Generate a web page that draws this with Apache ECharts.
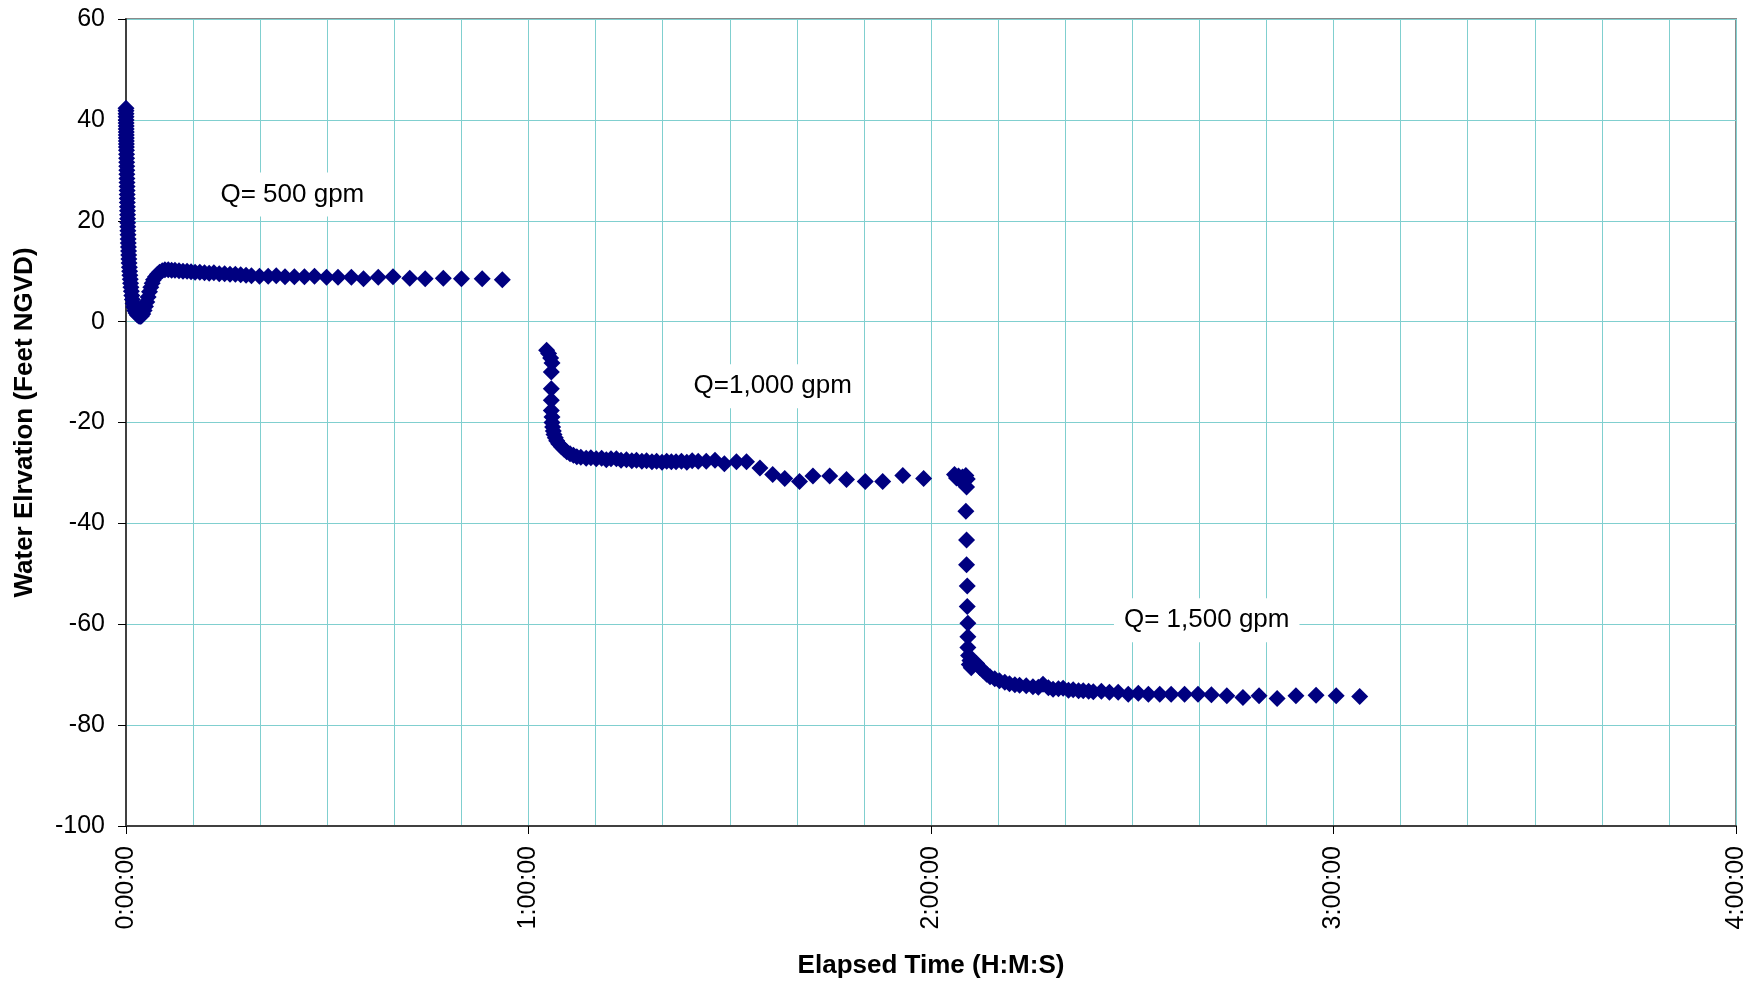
<!DOCTYPE html>
<html>
<head>
<meta charset="utf-8">
<script src="https://cdn.jsdelivr.net/npm/echarts@6/dist/echarts.min.js"></script>
<style>
html,body{margin:0;padding:0;background:#fff;}
#chart{width:1760px;height:984px;}
</style>
</head>
<body>
<div id="chart"></div>
<script>
// Elapsed time in minutes, water elevation in feet NGVD
const step1Time = [0.00,0.00,0.01,0.01,0.02,0.02,0.03,0.03,0.04,0.04,0.05,0.05,0.06,0.06,0.07,0.08,0.09,0.10,0.11,0.12,0.13,0.14,0.15,0.16,0.17,0.18,0.19,0.20,0.21,0.22,0.23,0.24,0.25,0.26,0.28,0.30,0.32,0.34,0.36,0.38,0.40,0.43,0.46,0.50,0.54,0.58,0.63,0.68,0.74,0.80,0.87,0.95,1.05,1.15,1.30,1.50,1.70,1.90,2.10,2.30,2.50,2.70,2.90,3.10,3.30,3.50,3.70,3.90,4.10,4.40,4.70,5.00,5.40,5.80,6.30,6.80,7.30,7.90,8.50,9.10,9.70,10.3,11.0,11.7,12.4,13.1,13.9,14.7,15.5,16.3,17.1,17.9,18.7,19.9,21.2,22.4,23.7,25.1,26.6,28.1,29.9,31.6,33.6,35.4,37.6,39.8,42.3,44.6,47.3,50.0,53.1,56.1];
const step1Level = [42.3,41.8,41.2,40.6,40.0,39.4,38.8,38.2,37.6,37.0,36.4,35.8,35.2,34.6,34.0,33.2,32.4,31.6,30.8,30.0,29.2,28.4,27.6,26.8,26.0,25.2,24.4,23.6,22.8,22.0,21.2,20.4,19.6,18.8,18.0,17.2,16.4,15.6,14.8,14.0,13.2,12.4,11.6,10.8,10.0,9.2,8.4,7.6,6.8,6.0,5.2,4.4,3.6,2.9,2.2,1.7,1.3,1.1,1.0,1.1,1.5,2.2,3.0,3.9,4.9,5.9,6.8,7.6,8.3,8.9,9.4,9.8,10.1,10.3,10.3,10.2,10.2,10.1,10.0,10.0,9.9,9.8,9.8,9.7,9.6,9.7,9.5,9.5,9.4,9.4,9.3,9.2,9.1,9.0,9.0,9.1,8.9,8.9,8.9,9.0,8.8,8.8,8.8,8.5,8.8,8.9,8.6,8.5,8.6,8.5,8.5,8.3];

const step2Time = [62.7,63.0,63.3,63.5,63.4,63.4,63.4,63.4,63.5,63.5,63.6,63.7,63.8,64.0,64.2,64.5,64.9,65.3,65.7,66.2,66.7,67.2,67.8,68.6,69.3,70.1,70.9,71.6,72.3,73.1,73.8,74.6,75.4,76.1,76.9,77.6,78.4,79.1,79.9,80.6,81.3,82.0,82.8,83.6,84.4,85.3,86.5,87.8,89.2,91.0,92.5,94.5,96.4,98.2,100.4,102.4,104.9,107.4,110.2,112.8,115.8,118.9];
const step2Level = [-5.7,-6.3,-7.2,-8.2,-10.0,-13.3,-15.6,-17.6,-18.9,-20.0,-20.9,-21.7,-22.4,-23.0,-23.6,-24.2,-24.8,-25.3,-25.8,-26.2,-26.5,-26.8,-26.9,-27.1,-27.0,-27.2,-27.1,-27.4,-27.2,-27.2,-27.5,-27.4,-27.6,-27.5,-27.7,-27.6,-27.8,-27.7,-27.9,-27.7,-27.8,-27.8,-27.7,-27.9,-27.6,-27.7,-27.7,-27.5,-28.2,-27.8,-27.8,-29.0,-30.3,-31.1,-31.7,-30.6,-30.6,-31.3,-31.7,-31.7,-30.5,-31.1];

const step3Time = [123.5,123.8,124.1,124.4,124.7,125.0,125.2,125.4,125.3,125.2,125.3,125.3,125.4,125.4,125.5,125.5,125.5,125.6,125.7,126.0,125.8,126.2,126.8,127.3,127.8,128.3,128.8,129.5,130.2,131.0,131.7,132.5,133.2,134.2,135.2,136.0,136.7,137.5,138.2,139.0,139.7,140.5,141.2,142.0,142.7,143.5,144.2,145.4,146.6,147.9,149.4,150.9,152.4,154.1,155.8,157.8,159.8,161.8,164.1,166.5,168.9,171.6,174.4,177.4,180.4,183.9];
const step3Level = [-30.3,-31.0,-30.6,-31.5,-30.8,-31.6,-30.5,-31.2,-32.8,-37.6,-43.3,-48.2,-52.4,-56.5,-59.8,-62.5,-64.6,-66.2,-68.0,-68.6,-67.2,-68.0,-67.8,-68.6,-69.2,-69.9,-70.4,-70.8,-71.2,-71.5,-71.8,-72.0,-72.1,-72.2,-72.4,-72.5,-71.9,-72.6,-72.9,-72.8,-72.7,-73.1,-73.0,-73.2,-73.2,-73.3,-73.4,-73.3,-73.5,-73.5,-73.9,-73.7,-73.9,-73.9,-73.9,-73.9,-73.9,-74.0,-74.2,-74.5,-74.2,-74.7,-74.2,-74.1,-74.2,-74.3];

const noteTexts = ['Q= 500 gpm', 'Q=1,000 gpm', 'Q= 1,500 gpm'];
const noteTime = [24.8, 96.4, 161.1];
const noteLevel = [25.2, -12.8, -59.2];

const yTitle = 'Water Elrvation (Feet NGVD)';
const xTitle = 'Elapsed Time (H:M:S)';

const FONT = "'Liberation Sans', Arial, sans-serif";
const MARK = '#000080';
const GRIDC = '#80cfcf';

function pairs(t, v) { return t.map((x, i) => [x, v[i]]); }
function hms(m) {
  const h = Math.floor(m / 60);
  const mm = Math.floor(m % 60);
  return h + ':' + String(mm).padStart(2, '0') + ':00';
}

function stepSeries(name, t, v) {
  return {
    name: name, type: 'scatter', data: pairs(t, v),
    symbol: 'diamond', symbolSize: 17,
    itemStyle: { color: MARK, opacity: 1 },
    z: 3, silent: true
  };
}

const chart = echarts.init(document.getElementById('chart'), null, { renderer: 'canvas' });
chart.setOption({
  animation: false,
  backgroundColor: '#ffffff',
  grid: { left: 126, right: 24, top: 19, bottom: 156, show: true, borderColor: '#8a8a8a', borderWidth: 2, backgroundColor: '#ffffff' },
  xAxis: {
    type: 'value', min: 0, max: 240, interval: 60,
    axisLine: { show: true, onZero: false, lineStyle: { color: '#404040', width: 2 } },
    axisTick: { show: true, length: 8, lineStyle: { color: '#000', width: 1 } },
    axisLabel: { rotate: 90, margin: 20, fontSize: 25, color: '#000', fontFamily: FONT, formatter: hms },
    splitLine: { show: true, lineStyle: { color: GRIDC, width: 1 } },
    minorTick: { show: false, splitNumber: 6 },
    minorSplitLine: { show: true, lineStyle: { color: GRIDC, width: 1 } },
    name: xTitle, nameLocation: 'middle', nameGap: 127,
    nameTextStyle: { fontSize: 26, fontWeight: 'bold', color: '#000', fontFamily: FONT }
  },
  yAxis: {
    type: 'value', min: -100, max: 60, interval: 20,
    axisLine: { show: true, onZero: false, lineStyle: { color: '#404040', width: 2 } },
    axisTick: { show: true, length: 8, lineStyle: { color: '#000', width: 1 } },
    axisLabel: { margin: 21, fontSize: 25, color: '#000', fontFamily: FONT },
    splitLine: { show: true, lineStyle: { color: GRIDC, width: 1 } },
    name: yTitle, nameLocation: 'middle', nameGap: 88,
    nameTextStyle: { fontSize: 26, fontWeight: 'bold', color: '#000', fontFamily: FONT }
  },
  series: [
    {
      name: 'notes', type: 'scatter', silent: true, z: 2,
      symbolSize: 1, itemStyle: { color: '#ffffff', opacity: 0 },
      data: noteTexts.map((s, i) => ({ name: s, value: [noteTime[i], noteLevel[i]] })),
      label: {
        show: true, position: 'inside', formatter: p => p.name, opacity: 1,
        fontSize: 26, lineHeight: 26, color: '#000000', textBorderWidth: 0, fontFamily: FONT,
        backgroundColor: '#ffffff', padding: [9, 10, 9, 10]
      },
      emphasis: { disabled: true },
      labelLayout: { hideOverlap: false }
    },
    stepSeries('Q=500', step1Time, step1Level),
    stepSeries('Q=1000', step2Time, step2Level),
    stepSeries('Q=1500', step3Time, step3Level)
  ]
});
</script>
</body>
</html>
